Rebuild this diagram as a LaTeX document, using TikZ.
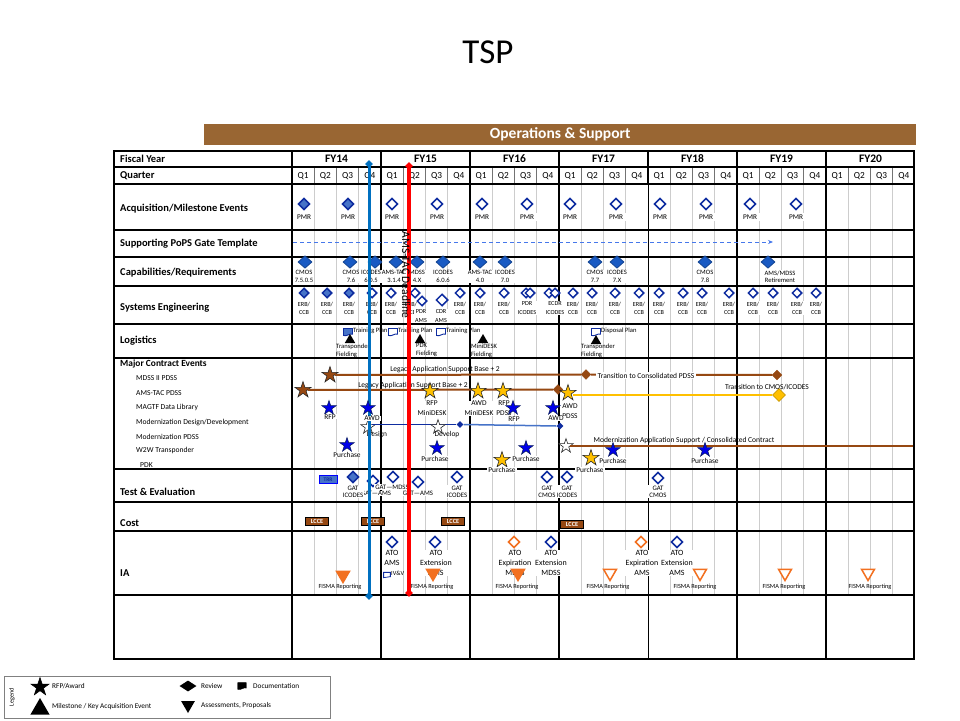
\documentclass[tikz,border=0pt]{standalone}
\usepackage{fontspec}
\setmainfont{Carlito}
\usetikzlibrary{shapes.geometric,arrows.meta}
\newcommand\myfs[2]{\fontsize{#1}{#2}\selectfont}
\definecolor{hdrbrown}{RGB}{153,102,51}
\definecolor{brn}{RGB}{150,72,18}
\definecolor{navy}{RGB}{15,45,160}
\definecolor{midblue}{RGB}{70,115,200}
\definecolor{capblue}{RGB}{25,90,195}
\definecolor{gold}{RGB}{255,192,0}
\definecolor{starblue}{RGB}{0,0,235}
\definecolor{vblue}{RGB}{0,112,192}
\definecolor{orng}{RGB}{242,112,32}
\definecolor{gridgray}{RGB}{205,205,205}
\definecolor{dashblue}{RGB}{70,120,235}
\begin{document}
\begin{tikzpicture}[x=1pt,y=-1pt,
  rowlab/.style={anchor=west, inner sep=0pt, font=\bfseries\myfs{10.5}{12}},
  sublab/.style={anchor=west, inner sep=0pt, font=\myfs{7.6}{9}},
  fylab/.style={inner sep=0pt, font=\bfseries\myfs{11.5}{13}},
  qlab/.style={inner sep=0pt, font=\myfs{9.3}{11}},
  dia/.style={diamond, draw=navy, line width=1.6pt, fill=white, minimum size=11.5pt, inner sep=0pt},
  capdia/.style={diamond, draw=capblue!75!black, line width=0.8pt, fill=capblue, minimum width=14pt, minimum height=12.5pt, inner sep=0pt},
  sedia/.style={diamond, draw=navy, line width=1.5pt, fill=white, minimum size=10pt, inner sep=0pt},
  pmr/.style={fill=white, font=\myfs{7.3}{8}, inner xsep=3pt, inner ysep=1.5pt},
  caplab/.style={fill=white, align=center, font=\myfs{6.6}{7.5}, inner xsep=1pt, inner ysep=0.5pt},
  erblab/.style={fill=white, align=center, font=\myfs{6.2}{8.2}, inner xsep=1pt, inner ysep=0.5pt},
  gatlab/.style={fill=white, align=center, font=\myfs{6.8}{7.5}, inner xsep=1pt, inner ysep=0.5pt},
  ialab/.style={fill=white, align=center, font=\myfs{8}{10}, inner xsep=1pt, inner ysep=0.5pt},
  evlab/.style={fill=white, align=center, font=\myfs{7.4}{10}, inner xsep=1pt, inner ysep=0.3pt},
  longlab/.style={inner sep=0pt, font=\myfs{7.5}{9}},
  loglab/.style={anchor=north west, align=left, inner sep=0pt, font=\myfs{6.6}{8}},
  fisma/.style={inner sep=0pt, font=\myfs{6.3}{7}},
  mystar/.style={star, star points=5, star point ratio=2.6, inner sep=0pt, minimum size=#1, draw=black!85, line width=0.6pt},
  brnstar/.style={mystar=17pt, fill=brn},
  gstar/.style={mystar=17pt, fill=gold},
  bstar/.style={mystar=15pt, fill=starblue, draw=navy!60!black},
  wstar/.style={mystar=15pt, fill=white},
  bdia/.style={diamond, fill=brn, draw=brn, minimum size=10pt, inner sep=0pt},
  brnline/.style={draw=brn, line width=2pt},
  tri/.style={regular polygon, regular polygon sides=3, fill=black, inner sep=0pt, minimum size=12pt},
  itri/.style={regular polygon, regular polygon sides=3, shape border rotate=180, inner sep=0pt, minimum size=15pt, draw=orng, line width=1.5pt},
  lcce/.style={fill=brn, draw=black, line width=0.6pt, minimum width=23pt, minimum height=8pt, inner sep=0pt, text=white, font=\bfseries\myfs{6.3}{7}},
  vdia/.style={diamond, minimum size=8pt, inner sep=0pt},
  legtxt/.style={anchor=west, inner sep=0pt, font=\myfs{7.3}{8}},
  docicon/.pic={\path[pic actions] (-4.5,-3.5) -- (4.5,-3.5) -- (4.5,2.2) .. controls (2,0.8) and (-1,4.8) .. (-4.5,3.5) -- cycle;}
]
\useasboundingbox (0,0) rectangle (960,720);
\fill[white] (0,0) rectangle (960,720);

% ---------- header ----------
\node[inner sep=0pt, font=\myfs{35}{40}] (title) at (488,52) {TSP};
\node[fill=hdrbrown, minimum width=712pt, minimum height=21pt, inner sep=0pt, anchor=north west] (bar) at (204,124) {};
\node[inner sep=0pt, font=\bfseries\myfs{15.5}{18}, text=white] (ops) at (bar.center) {Operations \& Support};

% ---------- grid ----------
\foreach \f in {0,...,6}{
  \foreach \k in {1,2,3}{
    \draw[gridgray, line width=1.2pt] ({292+89*\f+22.25*\k},184) -- ({292+89*\f+22.25*\k},595);
    \draw[black!55, line width=0.6pt] ({292+89*\f+22.25*\k},167) -- ({292+89*\f+22.25*\k},184);
  }
}
\foreach \y in {167,184,230,257,286,324,358,469,502,531,595}{\draw[line width=1.1pt] (114,\y) -- (914,\y);}
\foreach \x in {292,381,470,559,737,826}{\draw[line width=1.6pt] (\x,151) -- (\x,659);}
\draw[line width=1.6pt] (648,151) -- (648,184);
\draw[line width=0.8pt] (648,184) -- (648,659);
\draw[line width=1.6pt] (114,151) rectangle (914,659);

% ---------- row labels ----------
\node[rowlab] (rl1) at (120,159) {Fiscal Year};
\node[rowlab] (rl2) at (120,176) {Quarter};
\node[rowlab] (rl3) at (120,209) {Acquisition/Milestone Events};
\node[rowlab] (rl4) at (120,244) {Supporting PoPS Gate Template};
\node[rowlab] (rl5) at (120,273) {Capabilities/Requirements};
\node[rowlab] (rl6) at (120,308) {Systems Engineering};
\node[rowlab] (rl7) at (120,341) {Logistics};
\node[rowlab, font=\bfseries\myfs{9.4}{11}] (rl8) at (120,364) {Major Contract Events};
\node[rowlab] (rl9) at (120,492) {Test \& Evaluation};
\node[rowlab] (rl10) at (120,523) {Cost};
\node[rowlab] (rl11) at (120,573) {IA};
\node[sublab] (sl1) at (136,378.5) {MDSS II PDSS};
\node[sublab] (sl2) at (136,393.5) {AMS-TAC PDSS};
\node[sublab] (sl3) at (136,407.5) {MAGTF Data Library};
\node[sublab] (sl4) at (136,422.5) {Modernization Design/Development};
\node[sublab] (sl5) at (136,436.5) {Modernization PDSS};
\node[sublab] (sl6) at (136,450.5) {W2W Transponder};
\node[sublab] (sl7) at (140,465) {PDK};

% ---------- FY / quarters ----------
\foreach \n [count=\i from 0] in {14,...,20}{\node[fylab] (fy\n) at ({336.5+89*\i},159) {FY\n};}
\foreach \f in {0,...,6}{\foreach \q in {1,...,4}{\node[qlab] (q\f\q) at ({292+89*\f+22.25*(\q-0.5)},176) {Q\q};}}

% ---------- acquisition / milestone ----------
\foreach \x/\c [count=\i] in {304/midblue,348/midblue,392/white,437/white,482/white,527/white,570/white,616/white,660/white,706/white,750/white,796/white}{
  \node[dia, fill=\c] (acq\i) at (\x,204) {};
  \node[pmr] (pmr\i) at (\x,217) {PMR};
}

% ---------- supporting PoPS ----------
\coordinate (pops0) at (293,242);
\coordinate (pops1) at (773,242);
\draw[dashblue, line width=1pt, dash pattern=on 4pt off 3pt, -{Stealth[length=5pt,width=4pt]}] (pops0) -- (pops1);

% ---------- capabilities ----------
\foreach \x [count=\i] in {305,350,375,396,417,443,480,505,595,617,705,768}{\node[capdia] (cap\i) at (\x,262) {};}
\node[caplab] (capl1) at (304,276.5) {CMOS\\7.5.0.5};
\node[caplab] (capl2) at (351,276.5) {CMOS\\7.6};
\node[caplab] (capl3) at (371,276.5) {ICODES\\6.0.5};
\node[caplab] (capl4) at (394,276.5) {AMS-TAC\\3.1.4};
\node[caplab] (capl5) at (417,276.5) {MDSS\\4.X};
\node[caplab] (capl6) at (443,276.5) {ICODES\\6.0.6};
\node[caplab] (capl7) at (480,276.5) {AMS-TAC\\4.0};
\node[caplab] (capl8) at (505,276.5) {ICODES\\7.0};
\node[caplab] (capl9) at (595,276.5) {CMOS\\7.7};
\node[caplab] (capl10) at (617,276.5) {ICODES\\7.X};
\node[caplab] (capl11) at (705,276.5) {CMOS\\7.8};
\node[caplab] (capl12) at (780,276.5) {AMS/MDSS\\Retirement};

% ---------- systems engineering ----------
\foreach \x/\c [count=\i] in {304/midblue,327/midblue,349/midblue,372/white,391/white,415/white,460/white,480/white,504/white,573/white,592/white,615/white,639/white,659/white,683/white,702/white,729/white,753/white,773/white,797/white,816/white}{
  \node[sedia, fill=\c] (se\i) at (\x,293) {};}
\foreach \x [count=\i] in {304,327,349,372,391,411,460,480,504,573,592,615,639,659,683,702,729,753,773,797,816}{
  \node[erblab] (erb\i) at (\x,308) {ERB/\\CCB};}
\node[sedia] (pdra) at (422,301) {};
\node[erblab] (pdral) at (421,316) {PDR\\AMS};
\node[sedia, minimum size=12pt] (cdra) at (442,300) {};
\node[erblab] (cdral) at (441,316) {CDR\\AMS};
\node[sedia] (pdri1) at (526,293) {};
\node[sedia] (pdri2) at (530,293) {};
\node[erblab] (pdril) at (527,308) {PDR\\ICODES};
\node[sedia] (ecdr1) at (549,293) {};
\node[sedia] (ecdr2) at (555,293) {};
\node[erblab] (ecdrl) at (555,308) {ECDR\\ICODES};

% ---------- logistics ----------
\pic[draw=navy, fill=midblue, line width=0.9pt] (doc1) at (348,332) {docicon};
\node[legtxt, font=\myfs{6.6}{8}] (tp1) at (353,331) {Training Plan};
\pic[draw=navy, fill=white, line width=0.9pt] (doc2) at (393,332) {docicon};
\node[legtxt, font=\myfs{6.6}{8}] (tp2) at (398,331) {Training Plan};
\pic[draw=navy, fill=white, line width=0.9pt] (doc3) at (441,332) {docicon};
\node[legtxt, font=\myfs{6.6}{8}] (tp3) at (446,331) {Training Plan};
\pic[draw=navy, fill=white, line width=0.9pt] (doc4) at (596,332) {docicon};
\node[legtxt, font=\myfs{6.6}{8}] (dp1) at (601,331) {Disposal Plan};
\node[tri] (lt1) at (350,340) {};
\node[tri] (lt2) at (420,340) {};
\node[tri] (lt3) at (483,340) {};
\node[tri] (lt4) at (596,341) {};
\node[loglab] (ll1) at (336,343.5) {Transponder\\Fielding};
\node[loglab] (ll2) at (416,343.5) {PDK\\Fielding};
\node[loglab] (ll3) at (471,343.5) {MiniDESK\\Fielding};
\node[loglab] (ll4) at (581,343.5) {Transponder\\Fielding};

% ---------- major contract events ----------
\node[longlab] (lasb1) at (445,369.5) {Legacy Application Support Base + 2};
\node[brnstar] (s1) at (330,375) {};
\node[bdia] (d1) at (586,374.5) {};
\node[bdia] (d2) at (777,375) {};
\draw[brnline] (s1) -- (d1);
\draw[brnline] (d1) -- (d2);
\node[longlab, fill=white, inner xsep=2pt, inner ysep=1pt] (ttc) at (646,375.5) {Transition to Consolidated PDSS};

\node[brnstar] (s2) at (303,390) {};
\node[bdia] (d3) at (558,389.5) {};
\draw[brnline] (s2) -- (d3);
\node[longlab] (lasb2) at (413,385.5) {Legacy Application Support Base + 2};

\node[gstar] (g1) at (430,391) {};
\node[gstar] (g2) at (478,391) {};
\node[gstar] (g3) at (503,391) {};
\node[gstar] (g4) at (568,393) {};
\node[diamond, fill=gold, draw=gold!80!black, line width=0.6pt, minimum size=13pt, inner sep=0pt] (gd) at (779,395) {};
\draw[gold, line width=1.8pt] (g4.east |- gd.west) -- (gd.west);
\node[longlab] (tci) at (767,387) {Transition to CMOS/ICODES};
\node[evlab] (g1l) at (432,408.3) {RFP\\MiniDESK};
\node[evlab] (g2l) at (479,408.3) {AWD\\MiniDESK};
\node[evlab] (g3l) at (504,407.8) {RFP\\PDSS};
\node[evlab] (g4l) at (570,410.8) {AWD\\PDSS};

\node[bstar] (b1) at (329,408) {};
\node[evlab] (b1l) at (330,416.7) {RFP};
\node[bstar] (b3) at (513,408) {};
\node[evlab] (b3l) at (514,419.6) {RFP};
\node[bstar] (b4) at (553,408) {};
\node[evlab] (b4l) at (556,418.3) {AWD};

\node[wstar] (w1) at (368,427) {};
\node[diamond, fill=navy, minimum size=7pt, inner sep=0pt] (md1) at (460,424.5) {};
\node[diamond, fill=navy, minimum size=7pt, inner sep=0pt] (md2) at (560,426) {};
\draw[navy, line width=1.2pt] (w1.east |- md1.west) -- (md1.west);
\draw[midblue, line width=1.5pt] (md1.east) -- (md2.west);
\node[wstar] (w2) at (438,427) {};
\node[evlab, fill=none] (w1l) at (377,434.7) {Design};
\node[evlab, fill=none] (w2l) at (447,435) {Develop};

\node[wstar] (w3) at (566,446) {};
\coordinate (mpend) at (913,446);
\draw[brnline] (w3) -- (mpend);
\node[longlab] (masc) at (684,440.8) {Modernization Application Support / Consolidated Contract};

\node[bstar] (p1) at (347,445) {};
\node[evlab] (p1l) at (347,454.5) {Purchase};
\node[bstar] (p2) at (437,448) {};
\node[evlab] (p2l) at (435,458.5) {Purchase};
\node[bstar] (p3) at (526,448) {};
\node[bstar] (p4) at (613,450) {};
\node[bstar] (p5) at (705,450) {};
\node[evlab] (p5l) at (705,460.5) {Purchase};
\node[gstar] (g5) at (502,460) {};
\node[evlab] (g5l) at (502,470) {Purchase};
\node[evlab] (p3l) at (526,458.5) {Purchase};
\node[gstar] (g6) at (591,458) {};
\node[evlab] (g6l) at (590,469.5) {Purchase};
\node[evlab] (p4l) at (613,460.5) {Purchase};

% ---------- test & evaluation ----------
\node[draw=blue, fill=midblue, line width=0.8pt, minimum width=18pt, minimum height=7.5pt, inner sep=0pt, font=\bfseries\myfs{5.5}{6}, text=navy] (trr) at (328,479.5) {TRR};
\node[dia, fill=midblue] (t1) at (353,477) {};
\node[dia] (t2) at (373,481) {};
\node[dia] (t3) at (393,477) {};
\node[dia] (t4) at (418,482) {};
\node[dia] (t5) at (457,477) {};
\node[dia] (t6) at (547,477) {};
\node[dia] (t7) at (567,477) {};
\node[dia] (t8) at (658,478) {};
\node[gatlab] (t2l) at (376,493.5) {GAT—AMS};
\node[gatlab] (t1l) at (353,491.8) {GAT\\ICODES};
\node[gatlab] (t3l) at (392,487) {GAT—MDSS};
\node[gatlab] (t4l) at (418,493.5) {GAT—AMS};
\node[gatlab] (t5l) at (457,491.8) {GAT\\ICODES};
\node[gatlab] (t6l) at (547,491.8) {GAT\\CMOS};
\node[gatlab] (t7l) at (567,491.8) {GAT\\ICODES};
\node[gatlab] (t8l) at (658,491.8) {GAT\\CMOS};

% ---------- cost ----------
\node[lcce] (c1) at (317,521.5) {LCCE};
\node[lcce] (c2) at (373,521.5) {LCCE};
\node[lcce] (c3) at (453,521.5) {LCCE};
\node[lcce] (c4) at (572,524) {LCCE};

% ---------- IA ----------
\node[dia] (ia1) at (392,542) {};
\node[dia] (ia2) at (435,542) {};
\node[dia, draw=orng] (ia3) at (514,542) {};
\node[dia] (ia4) at (551,542) {};
\node[dia, draw=orng] (ia5) at (641,542) {};
\node[dia] (ia6) at (677,542) {};
\node[ialab] (ia1l) at (392,557.7) {ATO\\AMS};
\node[ialab] (ia2l) at (436,562.7) {ATO\\Extension\\AMS};
\node[ialab] (ia3l) at (515,562.7) {ATO\\Expiration\\MDSS};
\node[ialab] (ia4l) at (551,562.7) {ATO\\Extension\\MDSS};
\node[ialab] (ia5l) at (642,562.7) {ATO\\Expiration\\AMS};
\node[ialab] (ia6l) at (677,562.7) {ATO\\Extension\\AMS};
\pic[draw=navy, fill=white, line width=0.8pt, scale=0.75] (ivvdoc) at (387,575) {docicon};
\node[legtxt, font=\myfs{6.3}{7}] (ivv) at (391,573.5) {IV\&V};
\node[itri, fill=orng] (it1) at (343,575) {};
\node[itri, fill=orng] (it2) at (433,573) {};
\node[itri, fill=orng] (it3) at (518,573) {};
\node[itri, fill=white] (it4) at (610,573) {};
\node[itri, fill=white] (it5) at (700,573) {};
\node[itri, fill=white] (it6) at (785,573) {};
\node[itri, fill=white] (it7) at (868,573) {};
\foreach \x [count=\i] in {340,432,517,608,695,784,870}{\node[fisma] (fis\i) at (\x,586.5) {FISMA Reporting};}

% ---------- vertical milestone lines ----------
\coordinate (btop) at (369,164);
\coordinate (bbot) at (369,596);
\draw[vblue, line width=3pt] (btop) -- (bbot);
\node[vdia, fill=vblue] (btd) at (btop) {};
\node[vdia, fill=vblue] (bbd) at (bbot) {};
\coordinate (rtop) at (409,166);
\coordinate (rbot) at (409,593);
\draw[red, line width=3.6pt] (rtop) -- (rbot);
\node[vdia, fill=red] (rtd) at (rtop) {};
\node[vdia, fill=red] (rbd) at (rbot) {};
\node[rotate=-90, inner sep=0pt, font=\myfs{11.5}{13}] (deadline) at (406,275) {AMS-TAC Deadline};
\node[bstar] (b2) at (368,408) {};
\node[evlab] (b2l) at (372,418.3) {AWD};

% ---------- legend ----------
\node[draw=black!50, line width=0.8pt, minimum width=326pt, minimum height=42pt, inner sep=0pt, anchor=north west] (legbox) at (4,676) {};
\node[rotate=90, inner sep=0pt, font=\myfs{6.2}{7}] (legword) at (12,697) {Legend};
\node[mystar=19pt, fill=black, draw=black] (lgs) at (40,687) {};
\node[legtxt] (lgst) at (52,686) {RFP/Award};
\node[tri, minimum size=22pt] (lgt) at (40,709) {};
\node[legtxt] (lgtt) at (52,707) {Milestone / Key Acquisition Event};
\node[diamond, fill=black, minimum width=17pt, minimum height=11pt, inner sep=0pt] (lgd) at (188,686) {};
\node[legtxt] (lgdt) at (201,686) {Review};
\pic[fill=black, draw=black, scale=0.95] (lgdoc) at (242,686) {docicon};
\node[legtxt] (lgdoct) at (253,686) {Documentation};
\node[regular polygon, regular polygon sides=3, shape border rotate=180, fill=black, inner sep=0pt, minimum size=16pt] (lgit) at (188,705) {};
\node[legtxt] (lgitt) at (201,706) {Assessments, Proposals};
\end{tikzpicture}
\end{document}
